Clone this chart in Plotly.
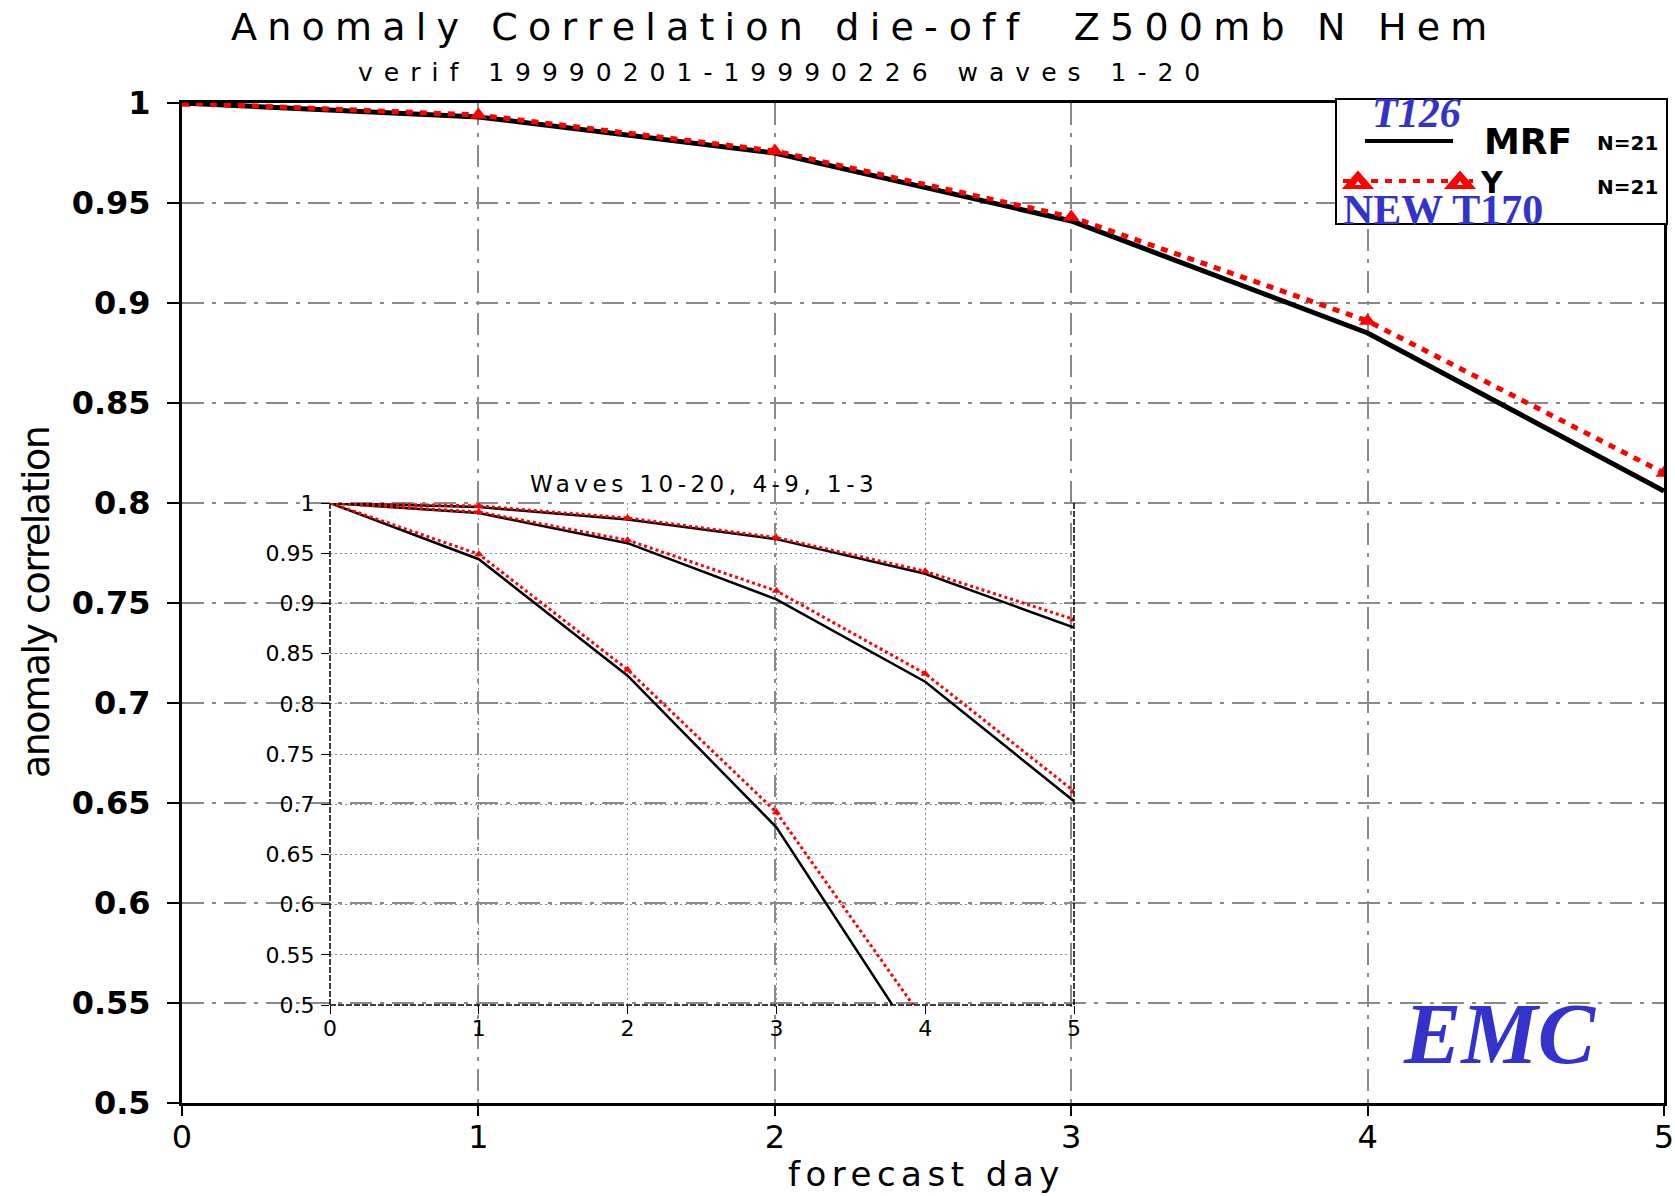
import plotly.graph_objects as go

# ---------------- data ----------------
days = [0, 1, 2, 3, 4, 5]
mrf_main = [1.0, 0.993, 0.975, 0.941, 0.885, 0.806]
y_main = [1.0, 0.994, 0.976, 0.943, 0.891, 0.815]

inset_days = [0, 1, 2, 3, 4, 5]
mrf_w13 = [1.0, 0.996, 0.9835, 0.964, 0.9295, 0.876]
y_w13 = [1.0, 0.997, 0.985, 0.9655, 0.932, 0.884]
mrf_w49 = [1.0, 0.990, 0.960, 0.904, 0.822, 0.703]
y_w49 = [1.0, 0.991, 0.963, 0.9125, 0.830, 0.713]
mrf_w1020 = [1.0, 0.944, 0.828, 0.677, 0.450]
y_w1020 = [1.0, 0.949, 0.834, 0.692, 0.483]

main_yticks = [0.5, 0.55, 0.6, 0.65, 0.7, 0.75, 0.8, 0.85, 0.9, 0.95, 1.0]
main_ytext = ["0.5", "0.55", "0.6", "0.65", "0.7", "0.75", "0.8", "0.85", "0.9", "0.95", "1"]
main_xticks = [0, 1, 2, 3, 4, 5]
inset_yticks = main_yticks
inset_ytext = main_ytext
inset_xticks = [0, 1, 2, 3, 4, 5]

title = "Anomaly Correlation die-off  Z500mb N Hem"
subtitle = "verif 19990201-19990226 waves 1-20"
inset_title = "Waves 10-20, 4-9, 1-3"
xlabel = "forecast day"
ylabel = "anomaly correlation"
legend_names = ["MRF", "Y"]
legend_n = ["N=21", "N=21"]
overlay_old = "T126"
overlay_new = "NEW T170"
logo = "EMC"

# ---------------- layout geometry ----------------
W, H = 1675, 1196
L, R, T, B = 182, 11, 103, 93
PW, PH = W - L - R, H - T - B


def px(x):
    return (x - L) / PW


def py(y):
    return (H - B - y) / PH


BLUE = "#3333CC"
GRID = "#8a8a8a"
FONT = "DejaVu Sans"
SERIF = "Liberation Serif"

fig = go.Figure()

# main series
fig.add_trace(go.Scatter(x=days, y=mrf_main, mode="lines",
                         line=dict(color="black", width=5), xaxis="x", yaxis="y"))
fig.add_trace(go.Scatter(x=days, y=y_main, mode="lines+markers",
                         line=dict(color="#ff0000", width=5, dash="7px,7px"),
                         marker=dict(symbol="triangle-up", size=15, color="#ff0000"),
                         xaxis="x", yaxis="y"))

# inset series
for m, yv in [(mrf_w13, y_w13), (mrf_w49, y_w49), (mrf_w1020, y_w1020)]:
    fig.add_trace(go.Scatter(x=inset_days[:len(m)], y=m, mode="lines",
                             line=dict(color="black", width=2.5), xaxis="x2", yaxis="y2"))
    fig.add_trace(go.Scatter(x=inset_days[:len(yv)], y=yv, mode="lines+markers",
                             line=dict(color="#ff0000", width=3, dash="3px,3px"),
                             marker=dict(symbol="triangle-up", size=8, color="#ff0000"),
                             xaxis="x2", yaxis="y2"))

main_grid = dict(showgrid=True, gridcolor=GRID, gridwidth=1.5, griddash="22px,8px,4px,8px")
inset_grid = dict(showgrid=True, gridcolor=GRID, gridwidth=1, griddash="2px,3px")

fig.update_layout(
    width=W, height=H,
    margin=dict(l=L, r=R, t=T, b=B, autoexpand=False),
    paper_bgcolor="white",
    plot_bgcolor="rgba(0,0,0,0)",
    showlegend=False,
    xaxis=dict(domain=[0, 1], range=[0, 5], tickvals=main_xticks, anchor="y",
               automargin=False,
               ticks="outside", ticklen=10, tickwidth=2, tickcolor="black",
               showline=True, linecolor="black", linewidth=3, mirror=True,
               zeroline=False, ticklabelstandoff=-6,
               tickfont=dict(family=FONT, size=32, color="black"), **main_grid),
    yaxis=dict(domain=[0, 1], range=[0.5, 1], tickvals=main_yticks, ticktext=main_ytext,
               anchor="x", automargin=False,
               ticks="outside", ticklen=12, tickwidth=2, tickcolor="black",
               showline=True, linecolor="black", linewidth=3, mirror=True,
               zeroline=False, ticklabelstandoff=10,
               tickfont=dict(family=FONT, size=32, color="black", weight="bold"), **main_grid),
    xaxis2=dict(domain=[px(330), px(1074)], range=[0, 5], tickvals=inset_xticks, anchor="y2",
                automargin=False,
                ticks="outside", ticklen=8, tickwidth=1, tickcolor="black",
                showline=False, zeroline=False, ticklabelstandoff=-4,
                tickfont=dict(family=FONT, size=22, color="black"), **inset_grid),
    yaxis2=dict(domain=[py(1005), py(503)], range=[0.5, 1], tickvals=inset_yticks,
                ticktext=inset_ytext, anchor="x2", automargin=False,
                ticks="outside", ticklen=8, tickwidth=1, tickcolor="black",
                showline=False, zeroline=False, ticklabelstandoff=2,
                tickfont=dict(family=FONT, size=22, color="black"), **inset_grid),
)

shapes = []
# inset borders (left, bottom, right) dashed black
for (x0, y0, x1, y1) in [(0, 0, 0, 1), (0, 0, 1, 0), (1, 0, 1, 1)]:
    shapes.append(dict(type="line", xref="x2 domain", yref="y2 domain",
                       x0=x0, y0=y0, x1=x1, y1=y1,
                       line=dict(color="black", width=1.5, dash="6px,2px")))
# legend box
shapes.append(dict(type="rect", xref="paper", yref="paper",
                   x0=px(1336), x1=px(1667), y0=py(224), y1=py(99),
                   fillcolor="white", line=dict(color="black", width=2), layer="above"))
shapes.append(dict(type="line", xref="paper", yref="paper",
                   x0=px(1365), x1=px(1453), y0=py(141), y1=py(141),
                   line=dict(color="black", width=4), layer="above"))
shapes.append(dict(type="line", xref="paper", yref="paper",
                   x0=px(1343), x1=px(1473), y0=py(181), y1=py(181),
                   line=dict(color="#ff0000", width=4, dash="7px,7px"), layer="above"))
for cx in (1358, 1460):
    path = "M {} {} L {} {} L {} {} Z".format(px(cx - 14), py(188), px(cx + 14), py(188),
                                            px(cx), py(172))
    shapes.append(dict(type="path", xref="paper", yref="paper", path=path,
                       fillcolor="#ff0000", line=dict(color="#ff0000", width=2), layer="above"))
    path2 = "M {} {} L {} {} L {} {} Z".format(px(cx - 3), py(185), px(cx + 3), py(185),
                                             px(cx), py(181))
    shapes.append(dict(type="path", xref="paper", yref="paper", path=path2,
                       fillcolor="white", line=dict(color="white", width=0), layer="above"))
fig.update_layout(shapes=shapes)


def ann(text, x, y, size, family=FONT, color="black", ls=None, angle=0, weight="normal",
        style="normal"):
    if ls is not None:
        text = '<span style="letter-spacing:{}px">{}</span>'.format(ls, text)
    fig.add_annotation(text=text, x=px(x), y=py(y), xref="paper", yref="paper",
                       showarrow=False, xanchor="center", yanchor="middle",
                       textangle=angle,
                       font=dict(family=family, size=size, color=color, weight=weight,
                                 style=style))


ann(title, 864, 27, 38, ls=10.2)
ann(subtitle, 784, 73, 25, ls=11)
ann(xlabel, 926, 1174, 34, ls=5.5)
ann(ylabel, 36, 603, 38, ls=-1.5, angle=-90)
ann(inset_title, 704, 484, 23, ls=4.5)

ann(legend_names[0], 1528, 141, 36, weight="bold")
ann(legend_n[0], 1627, 143, 20, weight="bold")
ann(legend_names[1], 1492, 183, 30, weight="bold")
ann(legend_n[1], 1627, 187, 20, weight="bold")
ann(overlay_old, 1416, 113, 42, family=SERIF, color=BLUE, weight="bold", style="italic")
ann(overlay_new, 1443, 210, 42, family=SERIF, color=BLUE, weight="bold")
ann(logo, 1500, 1034, 86, family=SERIF, color=BLUE, weight="bold", style="italic")

fig.write_html("out.html")
